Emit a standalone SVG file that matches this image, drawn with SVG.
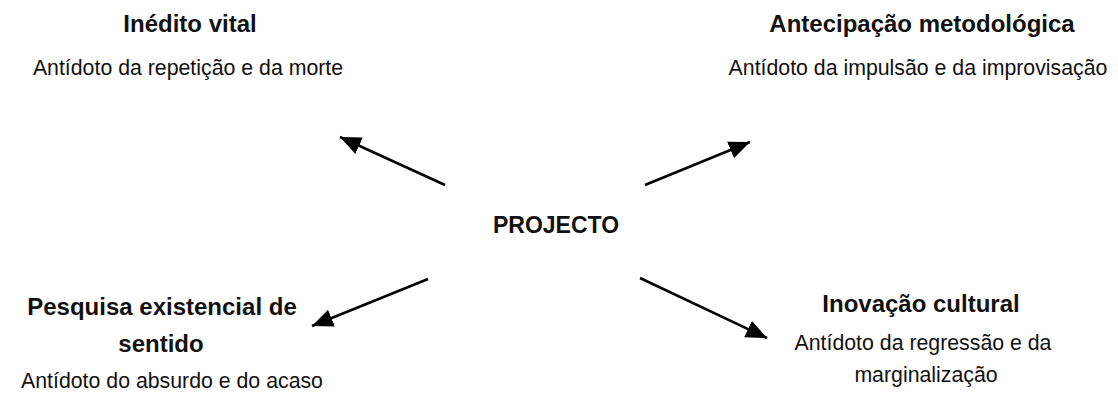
<svg xmlns="http://www.w3.org/2000/svg" width="1118" height="396" viewBox="0 0 1118 396">
<style>
.t{font-family:"Liberation Sans",Arial,sans-serif;font-weight:bold;font-size:24px;fill:#111;text-anchor:middle}
.s{font-family:"Liberation Sans",Arial,sans-serif;font-size:21.3px;fill:#111;text-anchor:middle}
.c{stroke:#000;stroke-width:2.5;fill:none;marker-end:url(#ah)}
</style>
<defs>
<marker id="ah" markerUnits="userSpaceOnUse" markerWidth="24" markerHeight="20" refX="21" refY="9" orient="auto">
<path d="M0,0 L21,9 L0,18 Z" fill="#000"/>
</marker>
</defs>
<rect width="1118" height="396" fill="#fff"/>
<g id="center"><text class="t" x="556" y="233" style="font-size:23px">PROJECTO</text></g>
<g id="n1">
<text class="t" x="190" y="32">Inédito vital</text>
<text class="s" x="188" y="75">Antídoto da repetição e da morte</text>
</g>
<g id="n2">
<text class="t" x="922" y="32">Antecipação metodológica</text>
<text class="s" x="918" y="75">Antídoto da impulsão e da improvisação</text>
</g>
<g id="n3">
<text class="t" x="162" y="315">Pesquisa existencial de</text>
<text class="t" x="161" y="352">sentido</text>
<text class="s" x="172" y="388">Antídoto do absurdo e do acaso</text>
</g>
<g id="n4">
<text class="t" x="921" y="312">Inovação cultural</text>
<text class="s" x="923" y="350">Antídoto da regressão e da</text>
<text class="s" x="926" y="382">marginalização</text>
</g>
<g id="connectors">
<line class="c" x1="445" y1="185" x2="340" y2="137"/>
<line class="c" x1="645" y1="185" x2="750" y2="142"/>
<line class="c" x1="428" y1="279" x2="312" y2="326"/>
<line class="c" x1="640" y1="278" x2="767" y2="338"/>
</g>
</svg>
